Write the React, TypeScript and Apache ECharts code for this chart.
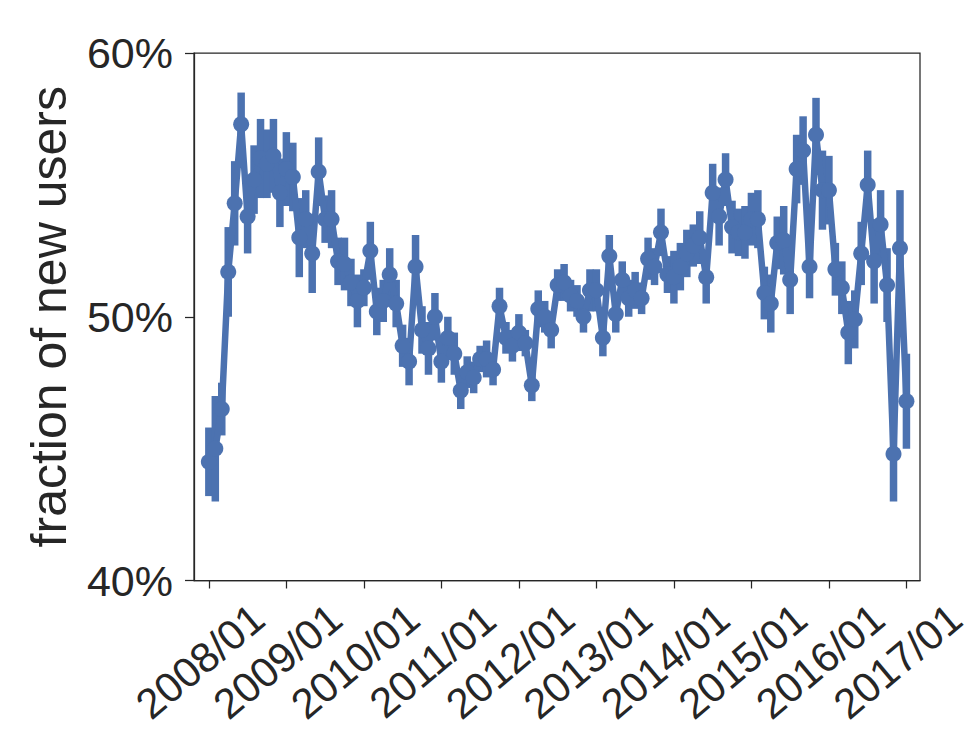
import React, { useEffect, useRef } from "react";
import * as echarts from "echarts";

// Monthly fraction of new users (%), 2008/01 .. 2017/01
const fractionNewUsers: number[] = [
  44.5, 45.0, 46.5, 51.7, 54.3, 57.3, 53.8, 55.2, 56.0, 55.8,
  56.1, 54.7, 55.6, 55.3, 53.0, 53.7, 52.4, 55.5, 53.7, 53.7,
  52.1, 52.0, 51.3, 50.6, 51.1, 52.5, 50.2, 50.6, 51.6, 50.5,
  48.9, 48.3, 51.9, 49.5, 48.8, 50.0, 48.3, 49.2, 48.6, 47.2,
  47.9, 47.7, 48.4, 48.4, 48.0, 50.4, 49.2, 48.9, 49.4, 49.0,
  47.4, 50.3, 50.0, 49.5, 51.2, 51.3, 50.8, 50.6, 50.0, 51.0,
  51.0, 49.2, 52.3, 50.1, 51.4, 50.7, 51.0, 50.7, 52.2, 51.9,
  53.2, 51.6, 51.5, 51.9, 52.4, 52.7, 53.0, 51.5, 54.7, 53.8,
  55.2, 53.4, 53.2, 53.2, 53.7, 53.7, 50.9, 50.5, 52.8, 52.9,
  51.4, 55.6, 56.3, 51.9, 56.9, 54.8, 54.8, 51.8, 51.1, 49.4,
  49.9, 52.4, 55.0, 52.1, 53.5, 51.2, 44.8, 52.6, 46.8,
];

// Half-length of each error bar (percentage points)
const errorHalf: number[] = [
  1.3, 2.0, 1.0, 1.7, 1.6, 1.2, 1.4, 1.3, 1.5, 1.3,
  1.4, 1.3, 1.4, 1.3, 1.5, 1.1, 1.5, 1.3, 0.9, 1.1,
  0.9, 1.0, 0.9, 1.0, 0.7, 1.1, 0.9, 0.8, 1.0, 0.9,
  0.8, 0.9, 1.2, 0.9, 1.0, 0.9, 0.8, 0.8, 0.8, 0.7,
  0.6, 0.6, 0.5, 0.7, 0.6, 0.7, 0.6, 0.6, 0.7, 0.5,
  0.6, 0.7, 0.6, 0.7, 0.6, 0.7, 0.6, 0.6, 0.6, 0.8,
  0.8, 0.7, 0.8, 0.7, 0.7, 0.7, 0.7, 0.6, 0.8, 0.7,
  0.9, 0.7, 1.0, 0.9, 0.9, 0.8, 1.0, 1.0, 1.1, 1.1,
  1.0, 1.0, 0.9, 1.0, 1.0, 1.1, 1.0, 1.1, 1.0, 1.3,
  1.3, 1.3, 1.3, 1.2, 1.4, 1.5, 1.3, 1.0, 1.0, 1.2,
  1.1, 1.2, 1.3, 1.6, 1.3, 1.4, 1.8, 2.2, 1.8,
];

const tickMonths: number[] = [0, 12, 24, 36, 48, 60, 72, 84, 96, 108];
const tickLabels: string[] = [
  "2008/01", "2009/01", "2010/01", "2011/01", "2012/01",
  "2013/01", "2014/01", "2015/01", "2016/01", "2017/01",
];
const yTicks: number[] = [40, 50, 60];
const yAxisTitle = "fraction of new users";

const BLUE = "#4C72B0";
const INK = "#262626";
const FONT = "'Liberation Sans', Arial, Helvetica, sans-serif";

export default function App() {
  const ref = useRef<HTMLDivElement>(null);

  useEffect(() => {
    if (!ref.current) return;
    const chart = echarts.init(ref.current, null, { renderer: "svg" });

    const points = fractionNewUsers.map((v, i) => [i, v]);
    const bars = fractionNewUsers.map((v, i) => [i, v - errorHalf[i], v + errorHalf[i]]);

    chart.setOption({
      animation: false,
      backgroundColor: "#ffffff",
      grid: {
        left: 194,
        top: 53,
        right: 49,
        bottom: 173.5,
        show: true,
        borderColor: INK,
        borderWidth: 1.25,
        backgroundColor: "transparent",
        containLabel: false,
        outerBoundsMode: "none",
      },
      xAxis: {
        type: "value",
        min: -2.3,
        max: 110.1,
        axisLine: { show: true, onZero: false, lineStyle: { color: INK, width: 1.25 } },
        splitLine: { show: false },
        axisTick: {
          show: true,
          customValues: tickMonths,
          length: 8,
          lineStyle: { color: INK, width: 1.25 },
        },
        axisLabel: {
          customValues: tickMonths,
          formatter: (v: number) => {
            const k = tickMonths.indexOf(Math.round(v));
            return k >= 0 ? tickLabels[k] : "";
          },
          rotate: 40,
          align: "center",
          verticalAlign: "bottom",
          lineHeight: 27,
          margin: 91,
          fontSize: 42,
          color: INK,
          fontFamily: FONT,
          hideOverlap: false,
        },
      },
      yAxis: {
        type: "value",
        min: 40,
        max: 60,
        interval: 10,
        name: yAxisTitle,
        nameLocation: "middle",
        nameGap: 120,
        nameRotate: 90,
        nameTextStyle: { fontSize: 50, color: INK, fontFamily: FONT },
        axisLine: { show: true, onZero: false, lineStyle: { color: INK, width: 1.25 } },
        splitLine: { show: false },
        axisTick: {
          show: true,
          customValues: yTicks,
          length: 9,
          lineStyle: { color: INK, width: 1.25 },
        },
        axisLabel: {
          customValues: yTicks,
          formatter: (v: number) => `${v}%`,
          margin: 21,
          fontSize: 43,
          color: INK,
          fontFamily: FONT,
        },
      },
      series: [
        {
          type: "custom",
          data: bars,
          encode: { x: 0, y: [1, 2] },
          z: 2,
          renderItem: (_params: any, api: any) => {
            const x = api.value(0);
            const lo = api.coord([x, api.value(1)]);
            const hi = api.coord([x, api.value(2)]);
            return {
              type: "line",
              shape: { x1: lo[0], y1: lo[1], x2: hi[0], y2: hi[1] },
              style: { stroke: BLUE, lineWidth: 7.5, lineCap: "butt" },
            };
          },
        },
        {
          type: "line",
          data: points,
          z: 3,
          symbol: "circle",
          symbolSize: 16,
          showAllSymbol: true,
          lineStyle: { color: BLUE, width: 6.5, cap: "round", join: "round" },
          itemStyle: { color: BLUE, borderWidth: 0 },
        },
      ],
    });

    return () => chart.dispose();
  }, []);

  return (
    <div
      ref={ref}
      style={{ position: "absolute", left: 0, top: 0, width: 969, height: 754 }}
    />
  );
}
